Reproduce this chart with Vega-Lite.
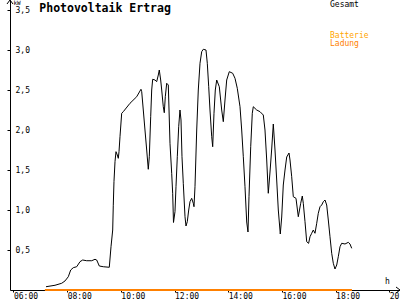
{
  "$schema": "https://vega.github.io/schema/vega-lite/v6.json",
  "width": 390,
  "height": 290,
  "autosize": {"type": "none"},
  "padding": {"left": 10, "top": 0, "right": 0, "bottom": 10},
  "background": "white",
  "data": {"values": [{}]},
  "config": {
    "view": {"stroke": null},
    "font": "DejaVu Sans Mono",
    "axis": {"grid": false, "domainColor": "#000000", "tickColor": "#000000", "labelColor": "#000000", "labelFont": "DejaVu Sans Mono", "labelFontSize": 8, "domainWidth": 1, "tickWidth": 1, "title": null}
  },
  "datasets": {
    "gesamt": [
      {"h": 7.211, "kw": 0.041}, {"h": 7.546, "kw": 0.059}, {"h": 7.796, "kw": 0.084}, {"h": 7.919, "kw": 0.113},
      {"h": 8.042, "kw": 0.166}, {"h": 8.131, "kw": 0.25}, {"h": 8.228, "kw": 0.279}, {"h": 8.355, "kw": 0.291},
      {"h": 8.478, "kw": 0.354}, {"h": 8.578, "kw": 0.375}, {"h": 8.727, "kw": 0.366}, {"h": 8.914, "kw": 0.366},
      {"h": 9.037, "kw": 0.384}, {"h": 9.1, "kw": 0.375}, {"h": 9.197, "kw": 0.3}, {"h": 9.346, "kw": 0.291},
      {"h": 9.569, "kw": 0.284}, {"h": 9.633, "kw": 0.541}, {"h": 9.696, "kw": 0.75}, {"h": 9.718, "kw": 1.06},
      {"h": 9.744, "kw": 1.354}, {"h": 9.782, "kw": 1.604}, {"h": 9.819, "kw": 1.729}, {"h": 9.867, "kw": 1.6875},
      {"h": 9.905, "kw": 1.646}, {"h": 9.931, "kw": 1.729}, {"h": 9.968, "kw": 1.916}, {"h": 10.031, "kw": 2.209},
      {"h": 10.091, "kw": 2.229}, {"h": 10.341, "kw": 2.334}, {"h": 10.59, "kw": 2.416}, {"h": 10.75, "kw": 2.509},
      {"h": 10.777, "kw": 2.479}, {"h": 10.836, "kw": 2.25}, {"h": 10.899, "kw": 2.0}, {"h": 10.963, "kw": 1.75},
      {"h": 11.022, "kw": 1.509}, {"h": 11.06, "kw": 1.666}, {"h": 11.112, "kw": 2.166}, {"h": 11.149, "kw": 2.5},
      {"h": 11.186, "kw": 2.634}, {"h": 11.272, "kw": 2.625}, {"h": 11.335, "kw": 2.604}, {"h": 11.395, "kw": 2.6875},
      {"h": 11.432, "kw": 2.75}, {"h": 11.484, "kw": 2.625}, {"h": 11.522, "kw": 2.5}, {"h": 11.581, "kw": 2.291},
      {"h": 11.618, "kw": 2.216}, {"h": 11.656, "kw": 2.416}, {"h": 11.708, "kw": 2.584}, {"h": 11.768, "kw": 2.5625},
      {"h": 11.831, "kw": 1.834}, {"h": 11.894, "kw": 1.459}, {"h": 11.931, "kw": 1.209}, {"h": 11.961, "kw": 0.844},
      {"h": 12.017, "kw": 0.979}, {"h": 12.054, "kw": 1.291}, {"h": 12.103, "kw": 1.666}, {"h": 12.155, "kw": 2.041},
      {"h": 12.203, "kw": 2.25}, {"h": 12.241, "kw": 2.125}, {"h": 12.278, "kw": 1.666}, {"h": 12.326, "kw": 1.334},
      {"h": 12.39, "kw": 0.916}, {"h": 12.427, "kw": 0.8}, {"h": 12.475, "kw": 0.854}, {"h": 12.528, "kw": 1.0},
      {"h": 12.576, "kw": 1.104}, {"h": 12.639, "kw": 1.146}, {"h": 12.699, "kw": 1.084}, {"h": 12.725, "kw": 1.041},
      {"h": 12.762, "kw": 1.291}, {"h": 12.826, "kw": 2.0}, {"h": 12.885, "kw": 2.5}, {"h": 12.949, "kw": 2.834},
      {"h": 13.012, "kw": 2.979}, {"h": 13.072, "kw": 3.009}, {"h": 13.172, "kw": 3.0}, {"h": 13.221, "kw": 2.834},
      {"h": 13.273, "kw": 2.541}, {"h": 13.321, "kw": 2.25}, {"h": 13.385, "kw": 1.916}, {"h": 13.422, "kw": 1.791},
      {"h": 13.47, "kw": 2.209}, {"h": 13.519, "kw": 2.5}, {"h": 13.571, "kw": 2.625}, {"h": 13.668, "kw": 2.541},
      {"h": 13.757, "kw": 2.25}, {"h": 13.817, "kw": 2.104}, {"h": 13.88, "kw": 2.375}, {"h": 13.943, "kw": 2.625},
      {"h": 14.04, "kw": 2.729}, {"h": 14.167, "kw": 2.709}, {"h": 14.253, "kw": 2.646}, {"h": 14.338, "kw": 2.521},
      {"h": 14.439, "kw": 2.291}, {"h": 14.502, "kw": 2.0}, {"h": 14.562, "kw": 1.666}, {"h": 14.625, "kw": 1.291},
      {"h": 14.689, "kw": 0.85}, {"h": 14.737, "kw": 0.725}, {"h": 14.774, "kw": 1.166}, {"h": 14.838, "kw": 1.791},
      {"h": 14.897, "kw": 2.209}, {"h": 14.934, "kw": 2.291}, {"h": 15.061, "kw": 2.25}, {"h": 15.184, "kw": 2.229},
      {"h": 15.307, "kw": 2.1875}, {"h": 15.37, "kw": 2.0}, {"h": 15.434, "kw": 1.625}, {"h": 15.493, "kw": 1.209},
      {"h": 15.557, "kw": 1.475}, {"h": 15.62, "kw": 1.7625}, {"h": 15.68, "kw": 2.075}, {"h": 15.743, "kw": 1.75},
      {"h": 15.806, "kw": 1.375}, {"h": 15.866, "kw": 1.0}, {"h": 15.94, "kw": 0.7}, {"h": 15.993, "kw": 0.9125},
      {"h": 16.052, "kw": 1.3125}, {"h": 16.116, "kw": 1.5}, {"h": 16.179, "kw": 1.6625}, {"h": 16.265, "kw": 1.7125},
      {"h": 16.302, "kw": 1.625}, {"h": 16.365, "kw": 1.416}, {"h": 16.425, "kw": 1.166}, {"h": 16.525, "kw": 1.146},
      {"h": 16.611, "kw": 0.916}, {"h": 16.7, "kw": 1.084}, {"h": 16.76, "kw": 1.175}, {"h": 16.797, "kw": 1.084},
      {"h": 16.861, "kw": 0.854}, {"h": 16.924, "kw": 0.604}, {"h": 16.995, "kw": 0.583}, {"h": 17.047, "kw": 0.666},
      {"h": 17.11, "kw": 0.709}, {"h": 17.17, "kw": 0.75}, {"h": 17.233, "kw": 0.709}, {"h": 17.297, "kw": 0.834},
      {"h": 17.356, "kw": 0.959}, {"h": 17.42, "kw": 1.041}, {"h": 17.483, "kw": 1.0625}, {"h": 17.543, "kw": 1.104},
      {"h": 17.606, "kw": 1.125}, {"h": 17.669, "kw": 1.0625}, {"h": 17.729, "kw": 0.875}, {"h": 17.792, "kw": 0.666},
      {"h": 17.855, "kw": 0.459}, {"h": 17.915, "kw": 0.334}, {"h": 17.978, "kw": 0.2625}, {"h": 18.042, "kw": 0.3125},
      {"h": 18.101, "kw": 0.416}, {"h": 18.165, "kw": 0.541}, {"h": 18.228, "kw": 0.584}, {"h": 18.351, "kw": 0.575},
      {"h": 18.474, "kw": 0.596}, {"h": 18.537, "kw": 0.575}, {"h": 18.601, "kw": 0.521}
    ],
    "ladung": [
      {"h": 7.17, "kw": 0}, {"h": 18.61, "kw": 0}
    ]
  },
  "layer": [
    {
      "data": {"name": "gesamt"},
      "mark": {"type": "line", "color": "#000000", "strokeWidth": 1, "clip": false},
      "encoding": {
        "x": {"field": "h", "type": "quantitative",
          "scale": {"domain": [5.87, 20.4], "nice": false, "zero": false},
          "axis": {"values": [6, 8, 10, 12, 14, 16, 18, 20], "tickSize": 2, "labelAlign": "left", "labelDx": -3, "labelBaseline": "top", "labelPadding": 0, "labelOverlap": false, "labelFlush": false, "labelBound": false,
            "labelExpr": "(datum.value < 10 ? '0' : '') + datum.value + ':00'"}},
        "y": {"field": "kw", "type": "quantitative",
          "scale": {"domain": [0, 3.625], "nice": false},
          "axis": {"values": [0.5, 1, 1.5, 2, 2.5, 3, 3.5], "tickSize": 3, "labelAlign": "left", "labelBaseline": "middle", "labelDy": 1, "labelPadding": -8, "labelOverlap": false, "labelFlush": false, "labelBound": false,
            "labelExpr": "replace(format(datum.value, '.1f'), '.', ',')"}}
      }
    },
    {
      "data": {"name": "ladung"},
      "mark": {"type": "line", "color": "#ff8000", "strokeWidth": 2, "clip": false},
      "encoding": {
        "x": {"field": "h", "type": "quantitative"},
        "y": {"field": "kw", "type": "quantitative"}
      }
    },
    {
      "mark": {"type": "rule", "color": "#000000", "strokeWidth": 1, "clip": false},
      "encoding": {"x": {"datum": 5.758, "type": "quantitative"}, "y": {"datum": 3.575, "type": "quantitative"}, "x2": {"datum": 5.87}, "y2": {"datum": 3.625}}
    },
    {
      "mark": {"type": "rule", "color": "#000000", "strokeWidth": 1, "clip": false},
      "encoding": {"x": {"datum": 5.982, "type": "quantitative"}, "y": {"datum": 3.575, "type": "quantitative"}, "x2": {"datum": 5.87}, "y2": {"datum": 3.625}}
    },
    {
      "mark": {"type": "rule", "color": "#000000", "strokeWidth": 1, "clip": false},
      "encoding": {"x": {"datum": 20.251, "type": "quantitative"}, "y": {"datum": 0.0375, "type": "quantitative"}, "x2": {"datum": 20.4}, "y2": {"datum": 0}}
    },
    {
      "mark": {"type": "rule", "color": "#000000", "strokeWidth": 1, "clip": false},
      "encoding": {"x": {"datum": 20.251, "type": "quantitative"}, "y": {"datum": -0.0375, "type": "quantitative"}, "x2": {"datum": 20.4}, "y2": {"datum": 0}}
    },
    {
      "mark": {"type": "text", "text": "Photovoltaik Ertrag", "font": "DejaVu Sans Mono", "fontWeight": "bold", "fontSize": 11.5, "align": "left", "baseline": "alphabetic", "color": "#000000"},
      "encoding": {"x": {"datum": 6.961, "type": "quantitative"}, "y": {"datum": 3.479, "type": "quantitative"}}
    },
    {
      "mark": {"type": "text", "text": "kW", "font": "DejaVu Sans Mono", "fontSize": 6, "align": "left", "baseline": "alphabetic", "color": "#000000"},
      "encoding": {"x": {"datum": 6.0, "type": "quantitative"}, "y": {"datum": 3.565, "type": "quantitative"}}
    },
    {
      "mark": {"type": "text", "text": "h", "font": "DejaVu Sans Mono", "fontSize": 8, "align": "left", "baseline": "alphabetic", "color": "#000000"},
      "encoding": {"x": {"datum": 19.841, "type": "quantitative"}, "y": {"datum": 0.075, "type": "quantitative"}}
    },
    {
      "mark": {"type": "text", "text": "Gesamt", "font": "DejaVu Sans Mono", "fontSize": 8, "align": "left", "baseline": "alphabetic", "color": "#000000"},
      "encoding": {"x": {"datum": 17.792, "type": "quantitative"}, "y": {"datum": 3.534, "type": "quantitative"}}
    },
    {
      "mark": {"type": "text", "text": "Batterie", "font": "DejaVu Sans Mono", "fontSize": 8, "align": "left", "baseline": "alphabetic", "color": "#ffa500"},
      "encoding": {"x": {"datum": 17.792, "type": "quantitative"}, "y": {"datum": 3.15, "type": "quantitative"}}
    },
    {
      "mark": {"type": "text", "text": "Ladung", "font": "DejaVu Sans Mono", "fontSize": 8, "align": "left", "baseline": "alphabetic", "color": "#ff8000"},
      "encoding": {"x": {"datum": 17.792, "type": "quantitative"}, "y": {"datum": 3.045, "type": "quantitative"}}
    }
  ]
}
